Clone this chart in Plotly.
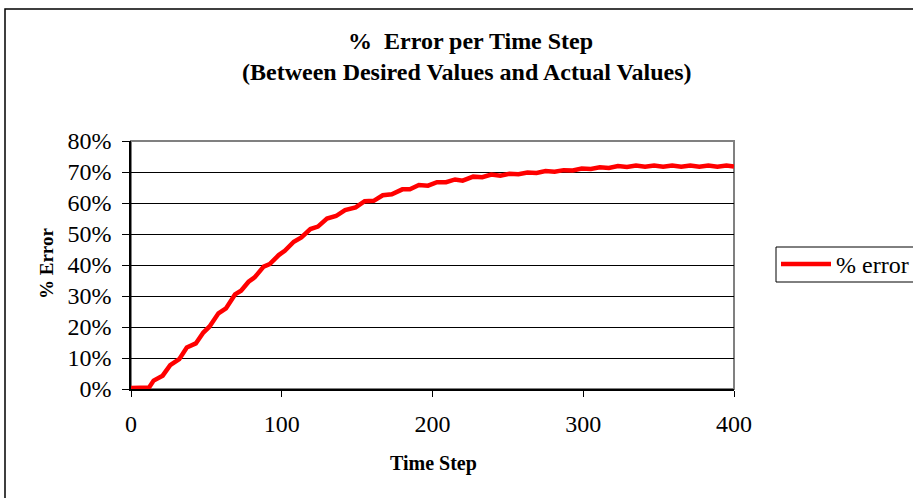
import plotly.graph_objects as go

# Percent error between desired and actual values, sampled over the run
time_step = [0, 12, 15, 21, 26, 32, 37, 43, 48, 52, 58, 63, 69, 73, 78, 82,
             88, 92, 98, 102, 108, 113, 119, 124, 130, 136, 142, 149, 155,
             161, 167, 173, 180, 185, 191, 197, 203, 209, 215, 220, 227, 233,
             239, 245, 251, 257, 263, 269, 275, 281, 287, 293, 299, 305, 311,
             317, 323, 329, 335, 341, 347, 353, 359, 365, 371, 377, 383, 389,
             395, 400]
pct_error = [0.3, 0.5, 2.7, 4.3, 7.7, 9.6, 13.4, 14.7, 18.2, 20.1, 24.4, 26.0,
             30.5, 31.7, 34.6, 36.0, 39.5, 40.3, 43.2, 44.6, 47.5, 48.9, 51.6,
             52.4, 55.0, 55.8, 57.7, 58.6, 60.6, 60.7, 62.5, 62.8, 64.4, 64.4,
             65.8, 65.6, 66.7, 66.7, 67.6, 67.2, 68.5, 68.3, 69.2, 68.8, 69.4,
             69.3, 69.8, 69.7, 70.3, 70.1, 70.6, 70.5, 71.1, 71.0, 71.5, 71.3,
             71.9, 71.6, 72.1, 71.7, 72.1, 71.7, 72.1, 71.7, 72.1, 71.7, 72.1,
             71.7, 72.1, 71.8]

x_ticks = [0, 100, 200, 300, 400]
y_ticks = [0.0, 0.1, 0.2, 0.3, 0.4, 0.5, 0.6, 0.7, 0.8]

SERIF = "Liberation Serif, Times New Roman, serif"

fig = go.Figure()
fig.add_trace(go.Scatter(
    x=time_step,
    y=[v / 100 for v in pct_error],
    mode="lines",
    name="% error",
    line=dict(color="#FF0000", width=4.5),
))

W, H = 913, 498
L, R, T, B = 131, 179, 141, 109
pw, ph = W - L - R, H - T - B


def px_x(p):
    return (p - L) / pw


def px_y(p):
    return (H - B - p) / ph


fig.update_layout(
    width=W, height=H,
    margin=dict(l=L, r=R, t=T, b=B, pad=0, autoexpand=False),
    paper_bgcolor="white",
    plot_bgcolor="white",
    font=dict(family=SERIF, color="black", size=22),
    showlegend=True,
    legend=dict(
        x=px_x(776), y=px_y(242), xanchor="left", yanchor="top",
        borderwidth=0, bgcolor="rgba(0,0,0,0)",
        font=dict(family=SERIF, size=24, color="black"),
        itemwidth=50,
    ),
    xaxis=dict(
        range=[0, 400], tickvals=x_ticks, ticktext=[str(v) for v in x_ticks],
        showgrid=False, zeroline=False,
        showline=True, linecolor="black", linewidth=1.5,
        ticks="outside", ticklen=6, tickcolor="black", tickwidth=1,
        tickfont=dict(family=SERIF, size=24),
        ticklabelstandoff=6,
    ),
    yaxis=dict(
        range=[0, 0.8], tickvals=y_ticks, tickformat=".0%",
        showgrid=True, gridcolor="black", gridwidth=1,
        zeroline=False,
        showline=True, linecolor="black", linewidth=1.5,
        ticks="outside", ticklen=7, tickcolor="black", tickwidth=1,
        tickfont=dict(family=SERIF, size=24),
        ticklabelstandoff=6,
    ),
    shapes=[
        # plot area frame (grey top/right edges)
        dict(type="rect", xref="paper", yref="paper", x0=0, y0=0, x1=1, y1=1,
             line=dict(color="#808080", width=2), layer="below"),
        # outer chart frame
        dict(type="rect", xref="paper", yref="paper",
             x0=px_x(5), y0=px_y(510), x1=px_x(925), y1=px_y(9),
             line=dict(color="black", width=1.5)),
        # legend box
        dict(type="rect", xref="paper", yref="paper",
             x0=px_x(776), y0=px_y(282), x1=px_x(930), y1=px_y(247),
             line=dict(color="black", width=1)),
    ],
    annotations=[
        dict(text="<b>%  Error per Time Step</b>", xref="paper", yref="paper",
             x=px_x(470), y=px_y(41), xanchor="center", yanchor="middle",
             showarrow=False, font=dict(family=SERIF, size=24)),
        dict(text="<b>(Between Desired Values and Actual Values)</b>",
             xref="paper", yref="paper",
             x=px_x(467), y=px_y(72), xanchor="center", yanchor="middle",
             showarrow=False, font=dict(family=SERIF, size=24)),
        dict(text="<b>Time Step</b>", xref="paper", yref="paper",
             x=px_x(433), y=px_y(463), xanchor="center", yanchor="middle",
             showarrow=False, font=dict(family=SERIF, size=20)),
        dict(text="<b>% Error</b>", xref="paper", yref="paper",
             x=px_x(46), y=px_y(264), xanchor="center", yanchor="middle",
             textangle=-90, showarrow=False,
             font=dict(family=SERIF, size=19)),
    ],
)

fig.write_html("out.html")
